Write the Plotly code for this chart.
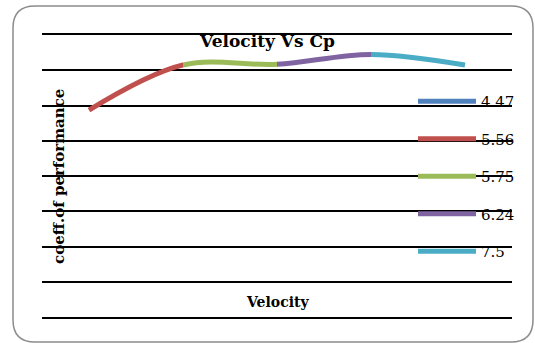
import plotly.graph_objects as go

# ---- data ----
velocity_labels = ["4.47", "5.56", "5.75", "6.24", "7.5"]
cp_values = [0.287, 0.415, 0.417, 0.445, 0.415]
series_colors = ["#4F81BD", "#C0504D", "#9BBB59", "#8064A2", "#4BACC6"]
title_text = "Velocity Vs Cp"
x_title = "Velocity"
y_title = "coeff.of performance"

W, H = 535, 343
L, R, T, B = 42, 23, 35, 26
PW, PH = W - L - R, H - T - B

def px(x):
    return (x - L) / PW

def py(y):
    return (H - B - y) / PH

idx = list(range(len(cp_values)))
n = len(cp_values)
FONT = "DejaVu Serif"

fig = go.Figure()

# first series: only a single point (legend entry)
fig.add_trace(go.Scatter(
    x=[idx[0]], y=[cp_values[0]], mode="lines", name=velocity_labels[0],
    legendgroup="g0", line=dict(color=series_colors[0], width=5),
    xaxis="x", yaxis="y", hoverinfo="skip"))

layout_axes = {}
pad = 0.06
for i in range(1, n):
    lo, hi = i - 1, i
    d0, d1 = (i - 0.5) / n, (i + 0.5) / n
    if i == 1:
        lo -= pad
        d0 -= pad / n
    if i == n - 1:
        hi += pad
        d1 += pad / n
    ax = f"xaxis{i+1}"
    layout_axes[ax] = dict(range=[lo, hi], domain=[d0, d1], anchor="y",
                           visible=False, showgrid=False, zeroline=False)
    fig.add_trace(go.Scatter(
        x=idx, y=cp_values, mode="lines", name=velocity_labels[i],
        legendgroup=f"g{i}", line=dict(color=series_colors[i], width=5, shape="spline"),
        xaxis=f"x{i+1}", yaxis="y", hoverinfo="skip"))

# rounded border
bx0, bx1, by0, by1, r = 13, 533, 6, 342, 22
path = (f"M {px(bx0+r)},{py(by0)} L {px(bx1-r)},{py(by0)} "
        f"Q {px(bx1)},{py(by0)} {px(bx1)},{py(by0+r)} "
        f"L {px(bx1)},{py(by1-r)} Q {px(bx1)},{py(by1)} {px(bx1-r)},{py(by1)} "
        f"L {px(bx0+r)},{py(by1)} Q {px(bx0)},{py(by1)} {px(bx0)},{py(by1-r)} "
        f"L {px(bx0)},{py(by0+r)} Q {px(bx0)},{py(by0)} {px(bx0+r)},{py(by0)} Z")

fig.update_layout(
    width=W, height=H,
    margin=dict(l=L, r=R, t=T, b=B),
    paper_bgcolor="white", plot_bgcolor="white",
    font=dict(family=FONT, color="black"),
    title=dict(text=f"<b>{title_text}</b>", x=0.5, xanchor="center",
               y=1 - 41 / H, yanchor="middle", yref="container",
               font=dict(size=17, family=FONT, color="black")),
    xaxis=dict(range=[-0.5, n - 0.5], domain=[0, 1], visible=True,
               showgrid=False, zeroline=False, showticklabels=False, ticks="",
               showline=True, mirror=True, linecolor="black", linewidth=1.6),
    yaxis=dict(range=[-0.3, 0.5], tick0=0, dtick=0.1, showgrid=True,
               gridcolor="black", gridwidth=1.6, zeroline=False,
               showticklabels=False, ticks="", showline=False),
    showlegend=True,
    legend=dict(x=px(413), xanchor="left", y=py(85), yanchor="top",
                bgcolor="rgba(0,0,0,0)", font=dict(size=15, family=FONT),
                tracegroupgap=15, itemwidth=58, traceorder="grouped"),
    shapes=[dict(type="path", path=path, xref="paper", yref="paper",
                 line=dict(color="#8c8c8c", width=1.5), layer="above")],
    annotations=[
        dict(text=f"<b>{y_title}</b>", x=px(59), y=py(177), xref="paper", yref="paper",
             textangle=-90, showarrow=False, font=dict(size=15, family=FONT),
             xanchor="center", yanchor="middle"),
        dict(text=f"<b>{x_title}</b>", x=px(277), y=py(302), xref="paper", yref="paper",
             showarrow=False, font=dict(size=14, family=FONT),
             xanchor="center", yanchor="middle"),
    ],
    **layout_axes,
)

fig.write_html("out.html", config={"displayModeBar": False},
               post_script="document.body.style.margin='0';")
